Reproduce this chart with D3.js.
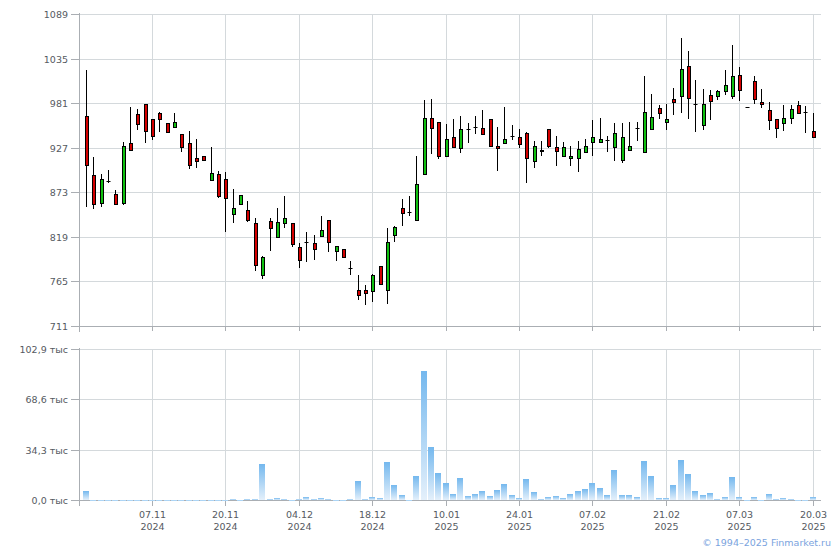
<!DOCTYPE html>
<html><head><meta charset="utf-8">
<script src="https://cdn.jsdelivr.net/npm/d3@7"></script>
<style>body{margin:0;background:#fff}svg{display:block}text{font-family:"DejaVu Sans",Verdana,sans-serif}</style>
</head><body><svg id="c" width="840" height="550"></svg>
<script>
const opens  = [966,895,861,887,872,861,933,968,980,963,970,957,953,944,933,915,918,889,896,890,847,859,852,836,773,839,820,836,836,807,813,812,821,840,803,805,782,755,755,754,784,755,822,855,850,840,896,964,959,917,941,927,950,953,952,962,930,933,942,941,945,911,925,950,929,918,915,915,922,935,935,937,928,913,925,951,922,950,976,959,987,990,1027,981,955,992,990,996,990,1016,977,1009,983,973,962,958,964,979,971,948];
const highs  = [1022,916,896,901,876,934,977,975,981,963,971,957,970,944,948,938,918,929,900,898,878,870,863,843,796,843,854,869,836,812,826,822,845,840,809,805,790,774,761,775,784,830,833,865,869,918,985,987,959,956,962,966,958,966,973,962,953,977,955,950,947,936,936,950,942,934,930,936,938,961,964,942,957,958,959,959,1014,993,979,980,1000,1060,1045,1010,999,997,998,1022,1052,1025,977,1015,999,983,962,979,979,984,978,970];
const lows   = [857,854,857,886,860,860,925,950,935,938,948,947,953,924,903,904,913,889,868,827,838,859,839,780,770,804,820,832,809,783,790,793,821,803,792,795,775,744,738,742,762,740,814,834,846,840,896,921,915,917,928,922,935,945,944,930,901,933,938,929,886,904,919,928,907,918,907,900,922,919,935,924,913,910,925,937,922,950,964,950,969,971,964,948,950,962,987,993,988,985,977,982,977,950,941,949,958,970,947,940];
const closes = [907,860,890,887,860,930,925,956,948,942,962,947,959,929,907,911,913,897,869,867,854,870,840,785,795,830,838,843,811,792,813,805,828,813,808,795,782,749,751,773,762,813,832,848,850,884,964,952,918,938,928,950,950,953,944,930,927,938,942,932,915,930,924,930,924,929,918,926,930,940,938,937,946,941,930,951,971,965,970,963,983,1023,988,981,980,984,996,1003,1015,997,977,987,981,961,952,964,975,970,971,940];
const volumes = [6.6,0.5,0.5,0.5,0.5,0.5,0.5,0.5,0.5,0.5,0.5,0.5,0.5,0.5,0.5,0.5,0.5,0.5,0.5,0.5,1.2,0.5,1.2,1.2,25.0,1.2,1.8,1.2,0.5,1.2,2.5,1.2,1.8,1.2,0.5,0.5,1.2,13.4,1.2,2.5,1.8,26.4,10.7,3.9,0.5,16.8,88.5,36.6,18.9,12.1,4.6,15.5,3.2,4.6,6.6,3.2,7.3,11.4,3.9,1.8,14.8,5.9,1.2,2.5,3.2,1.8,4.6,6.6,8.0,12.1,8.7,3.9,20.9,3.9,3.9,2.5,27.1,16.8,1.8,1.8,10.7,27.8,18.2,6.6,3.9,5.3,1.2,2.5,16.2,2.5,0.5,2.5,0.5,4.6,1.2,1.8,1.2,0.5,0.5,2.5];
const categories = opens.map((d, i) => i);
const priceTicks = [711,765,819,873,927,981,1035,1089];
const volumeTicks = [0,34.3,68.6,102.9];
const volumeTickLabels = ["0,0 тыс","34,3 тыс","68,6 тыс","102,9 тыс"];
const dateTickIndex = [9,19,29,39,49,59,69,79,89,99];
const dateTickDays = ["07.11","20.11","04.12","18.12","10.01","24.01","07.02","21.02","07.03","20.03"];
const dateTickYears = ["2024","2024","2024","2024","2025","2025","2025","2025","2025","2025"];
const copyright = "© 1994–2025 Finmarket.ru";

const svg = d3.select("#c");
const L = 80, R = 821;
const gridC = "#d4d9dc", axisC = "#aaaeb3", textC = "#555a5f";
const RED = "#d40000", GREEN = "#10c010";

const x = d3.scaleBand().domain(categories).range([82.33, 816.33]).paddingInner(0);
const cxOf = i => x(i) + x.bandwidth() / 2;
const yP = d3.scaleLinear().domain([711, 1089]).range([326.5, 14.5]);
const yV = d3.scaleLinear().domain([0, 102.9]).range([500.5, 349.5]);
const px = v => Math.round(v - 0.5) + 0.5;

const defs = svg.append("defs");
const grad = defs.append("linearGradient").attr("id", "vg").attr("x1", 0).attr("y1", 0).attr("x2", 0).attr("y2", 1);
grad.append("stop").attr("offset", "0%").attr("stop-color", "#74b8ee");
grad.append("stop").attr("offset", "100%").attr("stop-color", "#e4f0fb");

// grids
const g = svg.append("g");
g.selectAll(".hp").data(priceTicks.slice(1)).join("line")
  .attr("x1", L).attr("x2", R).attr("y1", d => px(yP(d))).attr("y2", d => px(yP(d)))
  .attr("stroke", gridC);
g.selectAll(".hv").data(volumeTicks.slice(1)).join("line")
  .attr("x1", L).attr("x2", R).attr("y1", d => px(yV(d))).attr("y2", d => px(yV(d)))
  .attr("stroke", gridC);
dateTickIndex.forEach(i => {
  const xx = Math.round(cxOf(i)) + 0.5;
  g.append("line").attr("x1", xx).attr("x2", xx).attr("y1", 14).attr("y2", 326).attr("stroke", gridC);
  g.append("line").attr("x1", xx).attr("x2", xx).attr("y1", 349).attr("y2", 500).attr("stroke", gridC);
  g.append("line").attr("x1", xx).attr("x2", xx).attr("y1", 327).attr("y2", 331).attr("stroke", axisC);
  g.append("line").attr("x1", xx).attr("x2", xx).attr("y1", 501).attr("y2", 506).attr("stroke", axisC);
});
// axes lines
g.append("line").attr("x1", L).attr("x2", R).attr("y1", 326.5).attr("y2", 326.5).attr("stroke", axisC);
g.append("line").attr("x1", L).attr("x2", R).attr("y1", 500.5).attr("y2", 500.5).attr("stroke", axisC);
g.append("line").attr("x1", 79.5).attr("x2", 79.5).attr("y1", 13).attr("y2", 332).attr("stroke", axisC);
g.append("line").attr("x1", 79.5).attr("x2", 79.5).attr("y1", 348).attr("y2", 506).attr("stroke", axisC);

// y labels
priceTicks.forEach(t => {
  const yy = px(yP(t));
  g.append("line").attr("x1", 71).attr("x2", 80).attr("y1", yy).attr("y2", yy).attr("stroke", axisC);
  g.append("text").attr("x", 68).attr("y", yy).attr("dy", "0.35em").attr("text-anchor", "end")
    .attr("font-size", 9.5).attr("fill", textC).text(t);
});
volumeTicks.forEach((t, k) => {
  const yy = px(yV(t));
  g.append("line").attr("x1", 71).attr("x2", 80).attr("y1", yy).attr("y2", yy).attr("stroke", axisC);
  g.append("text").attr("x", 68).attr("y", yy).attr("dy", "0.35em").attr("text-anchor", "end")
    .attr("font-size", 9.5).attr("fill", textC).text(volumeTickLabels[k]);
});
dateTickIndex.forEach((i, k) => {
  const xx = Math.round(cxOf(i)) + 0.5;
  g.append("text").attr("x", xx).attr("y", 518).attr("text-anchor", "middle")
    .attr("font-size", 9.5).attr("fill", textC).text(dateTickDays[k]);
  g.append("text").attr("x", xx).attr("y", 529.5).attr("text-anchor", "middle")
    .attr("font-size", 9.5).attr("fill", textC).text(dateTickYears[k]);
});

// volume bars
svg.append("g").selectAll("rect").data(categories).join("rect")
  .attr("x", i => Math.round(cxOf(i) - 3))
  .attr("width", 6)
  .attr("y", i => Math.min(Math.round(yV(volumes[i])), 500))
  .attr("height", i => Math.max(500 - Math.round(yV(volumes[i])), 1))
  .attr("fill", "url(#vg)");

// candles
const cg = svg.append("g");
categories.forEach(i => {
  const col = Math.round(cxOf(i));
  const o = opens[i], h = highs[i], l = lows[i], c = closes[i];
  cg.append("line").attr("x1", col + 0.5).attr("x2", col + 0.5)
    .attr("y1", Math.round(yP(h))).attr("y2", Math.round(yP(l)) + 1)
    .attr("stroke", "#000");
  const top = Math.round(yP(Math.max(o, c))), bot = Math.round(yP(Math.min(o, c)));
  if (o === c) {
    cg.append("line").attr("x1", col - 1.5).attr("x2", col + 2.5)
      .attr("y1", top + 0.5).attr("y2", top + 0.5).attr("stroke", "#000");
  } else {
    cg.append("rect").attr("x", col - 0.5).attr("width", 3)
      .attr("y", top + 0.5).attr("height", Math.max(bot - top, 1))
      .attr("fill", c > o ? GREEN : RED).attr("stroke", "#000").attr("stroke-width", 1);
  }
});

svg.append("text").attr("x", 831).attr("y", 546).attr("text-anchor", "end")
  .attr("font-size", 9.5).attr("fill", "#7aa3de").text(copyright);
</script></body></html>
